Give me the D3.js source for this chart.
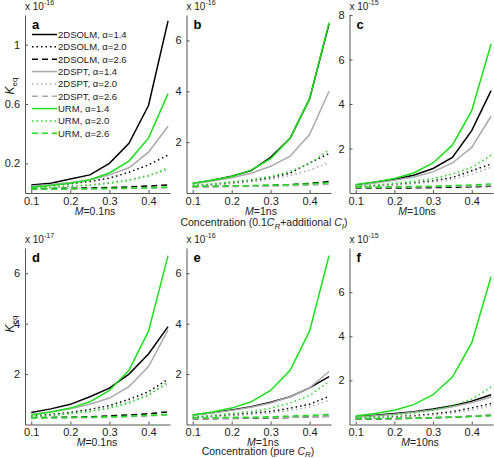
<!DOCTYPE html>
<html><head><meta charset="utf-8">
<script src="https://cdn.jsdelivr.net/npm/d3@7"></script>
<style>
body{margin:0;background:#fff;}
text{font-family:"Liberation Sans",Arial,sans-serif;}
</style></head>
<body><svg id="c" width="494" height="458"></svg>
<script>
const concentrations = [0.10,0.15,0.20,0.25,0.30,0.35,0.40,0.45];
const seriesNames = ["2DSOLM, \u03b1=1.4","2DSOLM, \u03b1=2.0","2DSOLM, \u03b1=2.6",
  "2DSPT, \u03b1=1.4","2DSPT, \u03b1=2.0","2DSPT, \u03b1=2.6",
  "URM, \u03b1=1.4","URM, \u03b1=2.0","URM, \u03b1=2.6"];
const xTicks = [0.1,0.2,0.3,0.4];

// Panel a (x 1e-16)
const dataA = [
  [0.054,0.066,0.094,0.122,0.20,0.335,0.59,1.16],
  [0.045,0.052,0.062,0.078,0.10,0.14,0.19,0.255],
  [0.030,0.031,0.032,0.034,0.037,0.041,0.047,0.054],
  [0.048,0.057,0.070,0.088,0.122,0.170,0.275,0.45],
  [0.035,0.040,0.047,0.056,0.070,0.090,0.120,0.155],
  [0.024,0.025,0.026,0.027,0.028,0.030,0.032,0.035],
  [0.038,0.050,0.065,0.090,0.135,0.215,0.37,0.67],
  [0.030,0.036,0.044,0.052,0.065,0.085,0.115,0.17],
  [0.027,0.027,0.028,0.029,0.031,0.033,0.036,0.040]
];
// Panel b (x 1e-16)
const dataB = [
  [0.37,0.50,0.66,0.88,1.40,2.15,3.70,6.65],
  [0.28,0.33,0.40,0.48,0.60,0.78,1.18,1.55],
  [0.25,0.26,0.27,0.28,0.30,0.33,0.38,0.45],
  [0.35,0.47,0.60,0.78,1.05,1.45,2.30,4.00],
  [0.27,0.31,0.37,0.44,0.54,0.68,0.90,1.20],
  [0.24,0.24,0.25,0.26,0.27,0.29,0.31,0.34],
  [0.38,0.50,0.65,0.90,1.35,2.15,3.70,6.70],
  [0.30,0.36,0.44,0.52,0.65,0.85,1.15,1.70],
  [0.27,0.27,0.28,0.29,0.31,0.33,0.36,0.40]
];
// Panel c (x 1e-15)
const dataC = [
  [0.35,0.48,0.62,0.80,1.10,1.60,2.80,4.60],
  [0.27,0.32,0.38,0.45,0.55,0.70,1.00,1.30],
  [0.22,0.22,0.22,0.23,0.24,0.26,0.28,0.30],
  [0.33,0.45,0.57,0.72,0.95,1.35,2.05,3.45],
  [0.26,0.30,0.36,0.42,0.50,0.62,0.85,1.15],
  [0.25,0.25,0.26,0.27,0.28,0.30,0.31,0.33],
  [0.38,0.50,0.65,0.90,1.35,2.15,3.70,6.70],
  [0.30,0.36,0.44,0.52,0.65,0.85,1.15,1.70],
  [0.27,0.27,0.28,0.29,0.31,0.33,0.36,0.40]
];
// Panel d (x 1e-17)
const dataD = [
  [0.48,0.62,0.80,1.10,1.44,2.00,2.80,3.88],
  [0.33,0.40,0.48,0.60,0.75,1.00,1.30,1.80],
  [0.27,0.28,0.29,0.31,0.34,0.38,0.43,0.50],
  [0.40,0.50,0.62,0.80,1.05,1.50,2.30,3.75],
  [0.30,0.36,0.43,0.53,0.68,0.90,1.20,1.60],
  [0.24,0.25,0.26,0.27,0.29,0.31,0.34,0.38],
  [0.38,0.50,0.65,0.90,1.35,2.15,3.70,6.70],
  [0.30,0.36,0.44,0.52,0.65,0.85,1.15,1.70],
  [0.27,0.27,0.28,0.29,0.31,0.33,0.36,0.40]
];
// Panel e (x 1e-16)
const dataE = [
  [0.38,0.47,0.58,0.70,0.88,1.10,1.45,1.90],
  [0.28,0.33,0.38,0.45,0.52,0.65,0.80,1.12],
  [0.23,0.23,0.24,0.25,0.26,0.28,0.30,0.33],
  [0.37,0.46,0.56,0.68,0.85,1.10,1.45,2.10],
  [0.27,0.30,0.35,0.40,0.46,0.55,0.70,0.95],
  [0.24,0.24,0.25,0.26,0.27,0.28,0.30,0.32],
  [0.38,0.50,0.65,0.90,1.35,2.15,3.70,6.70],
  [0.30,0.36,0.44,0.52,0.65,0.85,1.15,1.70],
  [0.27,0.27,0.28,0.29,0.31,0.33,0.36,0.40]
];
// Panel f (x 1e-15)
const dataF = [
  [0.35,0.42,0.50,0.58,0.70,0.85,1.05,1.35],
  [0.27,0.30,0.35,0.40,0.48,0.58,0.75,0.95],
  [0.24,0.25,0.26,0.28,0.30,0.33,0.37,0.42],
  [0.34,0.40,0.47,0.55,0.66,0.80,1.00,1.25],
  [0.26,0.29,0.33,0.37,0.43,0.52,0.65,0.85],
  [0.25,0.26,0.27,0.29,0.31,0.34,0.38,0.45],
  [0.38,0.50,0.65,0.90,1.35,2.15,3.70,6.70],
  [0.30,0.36,0.44,0.52,0.65,0.85,1.15,1.70],
  [0.27,0.27,0.28,0.29,0.31,0.33,0.36,0.40]
];
const yTicksA = [0.2,0.6,1], yTicksB = [2,4,6], yTicksC = [2,4,6,8],
      yTicksD = [2,4,6], yTicksE = [2,4,6], yTicksF = [2,4,6];
const yMax = [1.2, 7, 8, 7, 7, 8];
const exponents = ["-16","-16","-15","-17","-16","-15"];
const letters = ["a","b","c","d","e","f"];
const mLabels = ["=0.1ns","=1ns","=10ns","=0.1ns","=1ns","=10ns"];

const colors = ["#000","#000","#000","#aaa","#aaa","#aaa","#1be01b","#1be01b","#1be01b"];
const dashes = [null,"1.5,3","6,4",null,"1.5,3","6,4",null,"1.5,3","6,4"];

const svg = d3.select("#c");
const cols = [[25,170],[186.5,331],[349.5,493]];
const rows = [[15,193],[248,424.5]];
const allData = [dataA,dataB,dataC,dataD,dataE,dataF];
const allTicks = [yTicksA,yTicksB,yTicksC,yTicksD,yTicksE,yTicksF];
const mLabelPos = [[95,214.5],[261,214.5],[417,214.5],[97,446],[263,445.5],[420,446]];

allData.forEach((data,i)=>{
  const c = cols[i%3], r = rows[Math.floor(i/3)];
  const x = d3.scaleLinear().domain([0.084,0.455]).range(c);
  const y = d3.scaleLinear().domain([0,yMax[i]]).range([r[1],r[0]]);
  const g = svg.append("g");
  const line = d3.line().x((d,j)=>x(concentrations[j])).y(d=>y(d));
  data.forEach((s,k)=>{
    g.append("path").attr("d",line(s)).attr("fill","none")
      .attr("stroke",colors[k]).attr("stroke-width",1.5)
      .attr("stroke-dasharray",dashes[k]);
  });
  const xa = g.append("g").attr("transform",`translate(0,${r[1]})`)
    .call(d3.axisBottom(x).tickValues(xTicks).tickFormat(d3.format(".1f")).tickSizeInner(-3).tickSizeOuter(0).tickPadding(4));
  const ya = g.append("g").attr("transform",`translate(${c[0]},0)`)
    .call(d3.axisLeft(y).tickValues(allTicks[i]).tickFormat(d=>String(d)).tickSizeInner(-3).tickSizeOuter(0).tickPadding(5));
  [xa,ya].forEach(a=>{
    a.select(".domain").attr("stroke","#555");
    a.selectAll(".tick line").attr("stroke","#555");
    a.selectAll(".tick text").attr("fill","#222").style("font-size","11px").style("font-family","Liberation Sans, Arial, sans-serif");
  });
  const ex = svg.append("text").attr("x",c[0]).attr("y",r[0]-5).attr("fill","#222").style("font-size","10px");
  ex.append("tspan").text("x 10");
  ex.append("tspan").attr("dy",-5).style("font-size","7px").text(exponents[i]);
  svg.append("text").attr("x",c[0]+7).attr("y",r[0]+14).style("font-size","13px").style("font-weight","bold").text(letters[i]);
  const ml = svg.append("text").attr("x",mLabelPos[i][0]).attr("y",mLabelPos[i][1]).attr("text-anchor","middle").attr("fill","#222").style("font-size","10.5px");
  ml.append("tspan").style("font-style","italic").text("M");
  ml.append("tspan").text(mLabels[i]);
});

// y labels K_eq
[[14,86],[14,324]].forEach(p=>{
  const t = svg.append("text").attr("transform",`translate(${p[0]},${p[1]}) rotate(-90)`).attr("text-anchor","middle").attr("fill","#222").style("font-size","12px");
  t.append("tspan").style("font-style","italic").text("K");
  t.append("tspan").attr("dy",3).style("font-size","8px").text("eq");
});

const cl1 = svg.append("text").attr("x",264).attr("y",226).attr("text-anchor","middle").attr("fill","#222").style("font-size","10.5px");
cl1.append("tspan").text("Concentration (0.1");
cl1.append("tspan").style("font-style","italic").text("C");
cl1.append("tspan").attr("dy",3).style("font-size","8px").style("font-style","italic").text("R");
cl1.append("tspan").attr("dy",-3).text("+additional ");
cl1.append("tspan").style("font-style","italic").text("C");
cl1.append("tspan").attr("dy",3).style("font-size","8px").style("font-style","italic").text("I");
cl1.append("tspan").attr("dy",-3).text(")");

const cl2 = svg.append("text").attr("x",258).attr("y",454.5).attr("text-anchor","middle").attr("fill","#222").style("font-size","10.5px");
cl2.append("tspan").text("Concentration (pure ");
cl2.append("tspan").style("font-style","italic").text("C");
cl2.append("tspan").attr("dy",2.5).style("font-size","8px").style("font-style","italic").text("R");
cl2.append("tspan").attr("dy",-2.5).text(")");

const leg = svg.append("g");
seriesNames.forEach((n,k)=>{
  const yy = 34.5 + k*12.35;
  leg.append("line").attr("x1",32).attr("x2",57).attr("y1",yy).attr("y2",yy)
    .attr("stroke",colors[k]).attr("stroke-width",1.5).attr("stroke-dasharray",dashes[k]);
  leg.append("text").attr("x",58).attr("y",yy+3.5).attr("fill","#222").style("font-size","9.5px").text(n);
});
</script></body></html>
